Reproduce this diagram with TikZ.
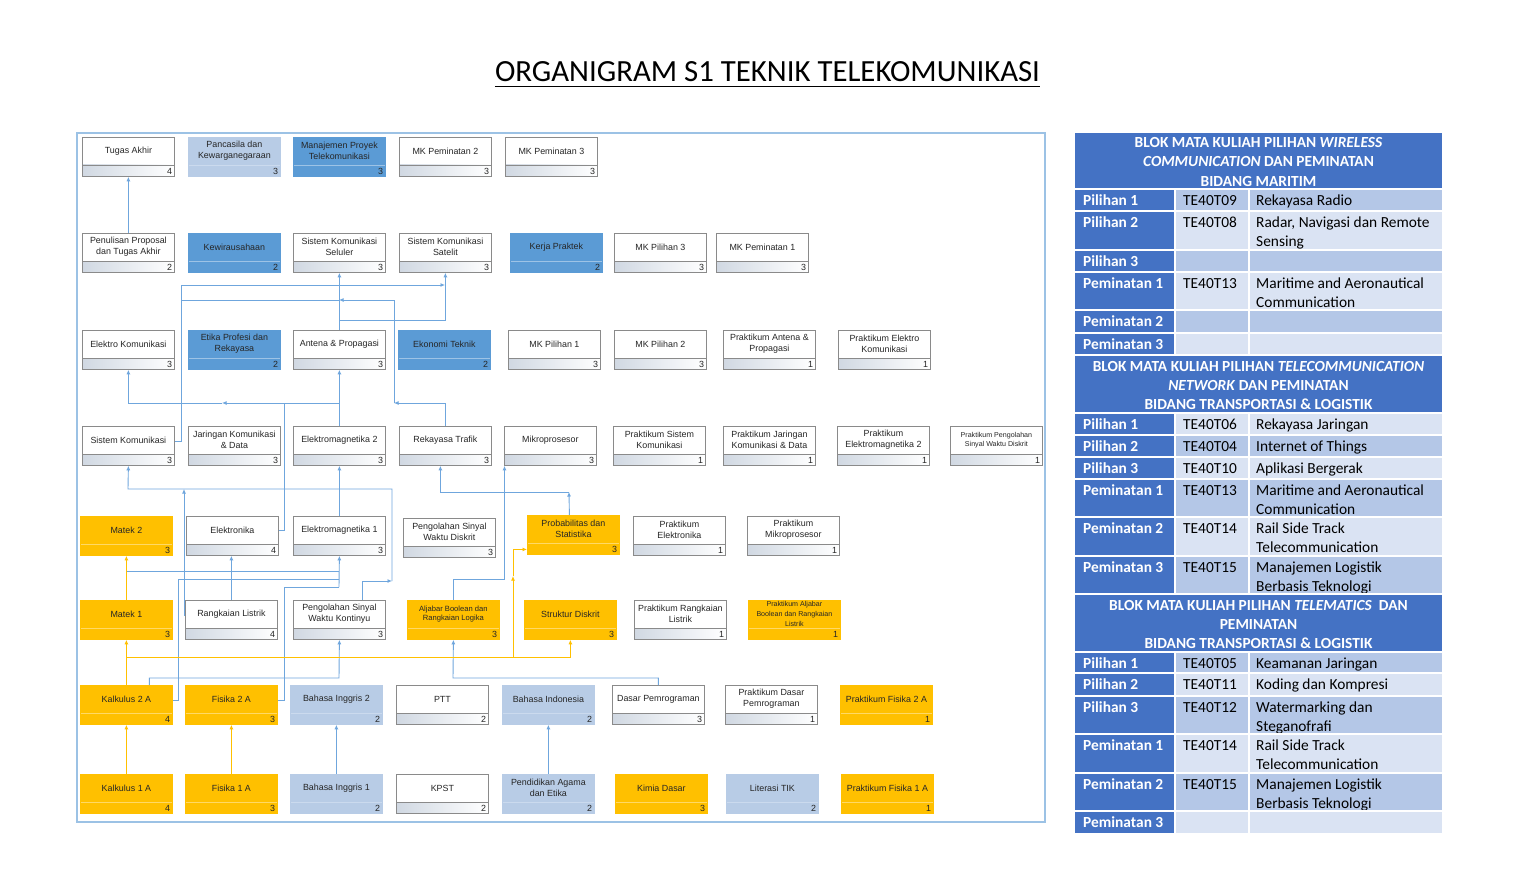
\documentclass[tikz,border=0pt]{standalone}
\usepackage{fontspec}
\setmainfont{Liberation Sans}
\newfontfamily\calibri{Carlito}
\usetikzlibrary{arrows.meta,calc}

% palette
\definecolor{tdark}{HTML}{4472C4}
\definecolor{tmed}{HTML}{B4C7E7}
\definecolor{tlight}{HTML}{DAE3F3}
\definecolor{toporange}{HTML}{FFC000}
\definecolor{topmid}{HTML}{5B9BD5}
\definecolor{toplight}{HTML}{B8CCE6}
\colorlet{topwhite}{white}
\definecolor{edgegray}{HTML}{8A8A8A}
\definecolor{stripgray}{HTML}{D0D8E2}
\definecolor{seporange}{HTML}{FFD966}
\definecolor{sepmid}{HTML}{9DC3E6}
\definecolor{seplight}{HTML}{CBDAEE}
\definecolor{lineblue}{HTML}{6FA6DD}
\definecolor{lineorange}{HTML}{FFC000}
\definecolor{framec}{HTML}{9CC2E5}
\definecolor{textdark}{HTML}{262626}

\newcommand\boxfont{\fontsize{8.9}{10.8}\selectfont}
\newcommand\smallboxfont{\fontsize{7.6}{9.9}\selectfont}
\newcommand\tinyboxfont{\fontsize{7.1}{9.6}\selectfont}
\newcommand\tabfont{\fontsize{15.4}{19}\selectfont}

\tikzset{
  x=1pt, y=-1pt,
  cbox/.style={minimum width=92pt, minimum height=39pt, inner sep=0pt,
    anchor=north west, line width=0.8pt},
  edgewhite/.style={draw=edgegray},
  edgeorange/.style={draw=toporange},
  edgemid/.style={draw=topmid},
  edgelight/.style={draw=toplight},
  stripwhite/.style={left color=stripgray, right color=white},
  striporange/.style={fill=toporange},
  stripmid/.style={fill=topmid},
  striplight/.style={fill=toplight},
  sepwhite/.style={draw=edgegray, line width=0.6pt},
  seporange/.style={draw=seporange, line width=0.6pt},
  sepmid/.style={draw=sepmid, line width=0.6pt},
  seplight/.style={draw=seplight, line width=0.6pt},
  ctext/.style={align=center, inner sep=0pt, text=textdark},
  cnum/.style={anchor=east, inner sep=0pt, text=textdark, font=\boxfont},
  conn/.style={draw=lineblue, line width=0.9pt},
  oconn/.style={draw=lineorange, line width=0.9pt},
  tip/.style={-{Latex[length=4.5pt,width=4pt]}},
  thead/.style={anchor=base, inner sep=0pt, text=white, font=\calibri\bfseries\tabfont},
  tlab/.style={anchor=base west, inner sep=0pt, text=white, font=\calibri\bfseries\tabfont},
  tcell/.style={anchor=base west, inner sep=0pt, text=black, font=\calibri\tabfont},
  tgrid/.style={draw=white, line width=1.4pt},
}

% course box: [font]{name}{x}{y}{kind}{title}{credits}
\newcommand\course[7][\boxfont]{%
  \path[fill=top#5] (#3,#4) rectangle ++(92,39);
  \path[strip#5] (#3,#4) ++(0,28) rectangle ++(92,11);
  \draw[sep#5] (#3,#4) ++(0,28) -- ++(92,0);
  \node[cbox, edge#5] (#2) at (#3,#4) {};
  \node[ctext, font=#1] (#2-t) at ([yshift=-14pt]#2.north) {#6};
  \node[cnum] (#2-n) at ([xshift=-2.5pt,yshift=5.5pt]#2.south east) {#7};
}

% table row: {id}{top}{bottom}{fill}{label}{code}{text 1}{text 2}
\newcommand\tabrow[8]{%
  \fill[#4] (1175,#2) rectangle (1442,#3);
  \fill[tdark] (1075,#2) rectangle (1175,#3);
  \node[tlab] (#1-a) at (1083,#2+16) {#5};
  \if\relax\detokenize{#6}\relax\else\node[tcell] (#1-b) at (1183,#2+16) {#6};\fi
  \if\relax\detokenize{#7}\relax\else\node[tcell] (#1-c) at (1256,#2+16) {#7};\fi
  \if\relax\detokenize{#8}\relax\else\node[tcell] (#1-d) at (1256,#2+35) {#8};\fi
}

\begin{document}
\begin{tikzpicture}
\useasboundingbox (0,0) rectangle (1536,896);
\fill[white] (0,0) rectangle (1536,896);

% title
\node[inner sep=0pt, anchor=base, font=\calibri\fontsize{30.8}{36}\selectfont] (title) at (767.5,82)
  {ORGANIGRAM S1 TEKNIK TELEKOMUNIKASI};
\draw[line width=1.6pt] ([yshift=-4.5pt]title.base west) -- ([yshift=-4.5pt]title.base east);

% chart frame
\draw[framec, line width=1.3pt] (77,133) rectangle (1045,822);

% semester rows, top to bottom
\course{tugas}{82}{137}{white}{Tugas Akhir}{4}
\course{pancasila}{188}{137}{light}{Pancasila dan\\Kewarganegaraan}{3}
\course{manproyek}{293}{137}{mid}{Manajemen Proyek\\Telekomunikasi}{3}
\course{mkpemb}{399}{137}{white}{MK Peminatan 2}{3}
\course{mkpemc}{505}{137}{white}{MK Peminatan 3}{3}

\course{proposal}{82}{233}{white}{Penulisan Proposal\\dan Tugas Akhir}{2}
\course{kewira}{188}{233}{mid}{Kewirausahaan}{2}
\course{seluler}{293}{233}{white}{Sistem Komunikasi\\Seluler}{3}
\course{satelit}{399}{233}{white}{Sistem Komunikasi\\Satelit}{3}
\course{kp}{510}{233}{mid}{Kerja Praktek}{2}
\course{mkpilc}{614}{233}{white}{MK Pilihan 3}{3}
\course{mkpema}{716}{233}{white}{MK Peminatan 1}{3}

\course{elkom}{82}{330}{white}{Elektro Komunikasi}{3}
\course{etika}{188}{330}{mid}{Etika Profesi dan\\Rekayasa}{2}
\course{antena}{293}{330}{white}{Antena \& Propagasi}{3}
\course{ekotek}{398}{330}{mid}{Ekonomi Teknik}{2}
\course{mkpila}{508}{330}{white}{MK Pilihan 1}{3}
\course{mkpilb}{614}{330}{white}{MK Pilihan 2}{3}
\course{prantena}{723}{330}{white}{Praktikum Antena \&\\Propagasi}{1}
\course{prelkom}{838}{330}{white}{Praktikum Elektro\\Komunikasi}{1}

\course{siskom}{82}{426}{white}{Sistem Komunikasi}{3}
\course{jarkom}{188}{426}{white}{Jaringan Komunikasi\\\& Data}{3}
\course{emb}{293}{426}{white}{Elektromagnetika 2}{3}
\course{trafik}{399}{426}{white}{Rekayasa Trafik}{3}
\course{mikro}{504}{426}{white}{Mikroprosesor}{3}
\course{prsiskom}{613}{426}{white}{Praktikum Sistem\\Komunikasi}{1}
\course{prjarkom}{723}{426}{white}{Praktikum Jaringan\\Komunikasi \& Data}{1}
\course{premb}{837}{426}{white}{Praktikum\\Elektromagnetika 2}{1}
\course[\tinyboxfont]{prpswd}{950}{426}{white}{Praktikum Pengolahan\\Sinyal Waktu Diskrit}{1}

\course{matekb}{80}{516}{orange}{Matek 2}{3}
\course{elektronika}{186}{516}{white}{Elektronika}{4}
\course{ema}{293}{516}{white}{Elektromagnetika 1}{3}
\course{pswd}{403}{518}{white}{Pengolahan Sinyal\\Waktu Diskrit}{3}
\course{probstat}{527}{515}{orange}{Probabilitas dan\\Statistika}{3}
\course{prelektronika}{633}{516}{white}{Praktikum\\Elektronika}{1}
\course{prmikro}{747}{516}{white}{Praktikum\\Mikroprosesor}{1}

\course{mateka}{80}{600}{orange}{Matek 1}{3}
\course{rangkaian}{185}{600}{white}{Rangkaian Listrik}{4}
\course{pswk}{293}{600}{white}{Pengolahan Sinyal\\Waktu Kontinyu}{3}
\course[\smallboxfont]{aljabar}{407}{600}{orange}{Aljabar Boolean dan\\Rangkaian Logika}{3}
\course{strukdis}{524}{600}{orange}{Struktur Diskrit}{3}
\course{prrangkaian}{634}{600}{white}{Praktikum Rangkaian\\Listrik}{1}
\course[\tinyboxfont]{praljabar}{748}{600}{orange}{Praktikum Aljabar\\Boolean dan Rangkaian\\Listrik}{1}

\course{kalkb}{80}{685}{orange}{Kalkulus 2 A}{4}
\course{fisb}{185}{685}{orange}{Fisika 2 A}{3}
\course{bingb}{290}{685}{light}{Bahasa Inggris 2}{2}
\course{ptt}{396}{685}{white}{PTT}{2}
\course{bindo}{502}{685}{light}{Bahasa Indonesia}{2}
\course{daspro}{612}{685}{white}{Dasar Pemrograman}{3}
\course{prdaspro}{725}{685}{white}{Praktikum Dasar\\Pemrograman}{1}
\course{prfisb}{840}{685}{orange}{Praktikum Fisika 2 A}{1}

\course{kalka}{80}{774}{orange}{Kalkulus 1 A}{4}
\course{fisa}{185}{774}{orange}{Fisika 1 A}{3}
\course{binga}{290}{774}{light}{Bahasa Inggris 1}{2}
\course{kpst}{396}{774}{white}{KPST}{2}
\course{agama}{502}{774}{light}{Pendidikan Agama\\dan Etika}{2}
\course{kimia}{615}{774}{orange}{Kimia Dasar}{3}
\course{literasi}{726}{774}{light}{Literasi TIK}{2}
\course{prfisa}{841}{774}{orange}{Praktikum Fisika 1 A}{1}

% junction points of the prerequisite lines
\coordinate (jAnt) at (339,320);
\coordinate (jSat) at (445,285);
\coordinate (jSkA) at (181,300);
\coordinate (jSel) at (339,300);
\coordinate (jTr)  at (394,403);
\coordinate (jEm)  at (339,403);
\coordinate (jEmL) at (222,403);
\coordinate (jEl)  at (284,403);
\coordinate (jPs)  at (392,581);
\coordinate (jSk)  at (128,489);
\coordinate (jRl)  at (184,489);
\coordinate (jMt)  at (126,571);
\coordinate (jEa)  at (339,571);
\coordinate (jEb)  at (339,579);
\coordinate (jE)   at (339,587);
\coordinate (jPk)  at (339,678);
\coordinate (jPr)  at (569,492);
\coordinate (jMk)  at (504.5,579);
\coordinate (jAl)  at (453,678);
\coordinate (jK)   at (126,657);
\coordinate (jSd)  at (513,657);
\coordinate (jSdb) at (513,576);

% blue prerequisite lines
\draw[conn,tip] (proposal.north) -- (tugas.south);
\draw[conn,tip] (antena.north) -- (seluler.south);
\draw[conn,tip] (jAnt) -| (satelit.south);
\draw[conn,tip] ([yshift=4pt]siskom.east) -| (181,285) -- (jSat);
\draw[conn] (jSkA) -- (jSel);
\draw[conn,tip] (trafik.north) |- (jTr);
\draw[conn,tip] (jTr) |- (jSel);
\draw[conn,tip] (emb.north) -- (antena.south);
\draw[conn,tip] (jEm) -- (jEmL);
\draw[conn,tip] (jEmL) -| (elkom.south);
\draw[conn] ([yshift=5pt]elektronika.east) -| (jEl);
\draw[conn,tip] ([xshift=23pt]pswk.north) |- (jPs);
\draw[conn,tip] (jPs) |- (jSk) -- (siskom.south);
\draw[conn,tip] (ema.north) -- (emb.south);
\draw[conn,tip] ([yshift=4.5pt]rangkaian.west) -| (jRl);
\draw[conn,tip] (rangkaian.north) -- (rangkaian.north |- elektronika.south);
\draw[conn] (jMt) -- (jEa);
\draw[conn] ([yshift=4.5pt]kalkb.east) -| (178,579) -- (jEb);
\draw[conn] ([yshift=4.5pt]fisb.east) -| (284,587) -- (jE);
\draw[conn,tip] (jE) -- (ema.south);
\draw[conn,tip] ([xshift=23pt]kalkb.north) |- (jPk) -- (pswk.south);
\draw[conn,tip] ([xshift=-4pt]probstat.north) -- (jPr);
\draw[conn,tip] (jPr) -| ([xshift=-5pt]trafik.south);
\draw[conn,tip] (aljabar.north) |- (jMk) -- ([xshift=0.5pt]mikro.south west);
\draw[conn,tip] (daspro.north) |- (jAl) -- (aljabar.south);
\draw[conn,tip] (binga.north) -- (bingb.south);
\draw[conn,tip] (agama.north) -- (bindo.south);

% orange prerequisite lines
\draw[oconn,tip] (kalka.north) -- (kalkb.south);
\draw[oconn,tip] (fisa.north) -- (fisb.south);
\draw[oconn,tip] (mateka.north) -- (matekb.south);
\draw[oconn,tip] (kalkb.north) -- (mateka.south);
\draw[oconn,tip] (jK) -| (strukdis.south);
\draw[oconn,tip] (jSd) -- (jSdb);
\draw[oconn,tip] (jSdb) |- ([yshift=-14.5pt]probstat.west);

% elective blocks table
\fill[tdark] (1075,133) rectangle (1442,189);
\node[thead] (h1a) at (1258.5,148) {BLOK MATA KULIAH PILIHAN \textit{WIRELESS}};
\node[thead] (h1b) at (1258.5,167) {\textit{COMMUNICATION} DAN PEMINATAN};
\node[thead] (h1c) at (1258.5,186) {BIDANG MARITIM};
\tabrow{wa}{189}{211}{tmed}{Pilihan 1}{TE40T09}{Rekayasa Radio}{}
\tabrow{wb}{211}{250}{tlight}{Pilihan 2}{TE40T08}{Radar, Navigasi dan Remote}{Sensing}
\tabrow{wc}{250}{272}{tmed}{Pilihan 3}{}{}{}
\tabrow{wd}{272}{310}{tlight}{Peminatan 1}{TE40T13}{Maritime and Aeronautical}{Communication}
\tabrow{we}{310}{333}{tmed}{Peminatan 2}{}{}{}
\tabrow{wf}{333}{355}{tlight}{Peminatan 3}{}{}{}

\fill[tdark] (1075,355) rectangle (1442,413);
\node[thead] (h2a) at (1258.5,371) {BLOK MATA KULIAH PILIHAN \textit{TELECOMMUNICATION}};
\node[thead] (h2b) at (1258.5,390) {\textit{NETWORK} DAN PEMINATAN};
\node[thead] (h2c) at (1258.5,409) {BIDANG TRANSPORTASI \& LOGISTIK};
\tabrow{na}{413}{435}{tlight}{Pilihan 1}{TE40T06}{Rekayasa Jaringan}{}
\tabrow{nb}{435}{457}{tmed}{Pilihan 2}{TE40T04}{Internet of Things}{}
\tabrow{nc}{457}{479}{tlight}{Pilihan 3}{TE40T10}{Aplikasi Bergerak}{}
\tabrow{nd}{479}{517}{tmed}{Peminatan 1}{TE40T13}{Maritime and Aeronautical}{Communication}
\tabrow{ne}{517}{556}{tlight}{Peminatan 2}{TE40T14}{Rail Side Track}{Telecommunication}
\tabrow{nf}{556}{594}{tmed}{Peminatan 3}{TE40T15}{Manajemen Logistik}{Berbasis Teknologi}

\fill[tdark] (1075,594) rectangle (1442,652);
\node[thead] (h3a) at (1258.5,610) {BLOK MATA KULIAH PILIHAN \textit{TELEMATICS}\ \ DAN};
\node[thead] (h3b) at (1258.5,629) {PEMINATAN};
\node[thead] (h3c) at (1258.5,648) {BIDANG TRANSPORTASI \& LOGISTIK};
\tabrow{ta}{652}{673}{tmed}{Pilihan 1}{TE40T05}{Keamanan Jaringan}{}
\tabrow{tb}{673}{696}{tlight}{Pilihan 2}{TE40T11}{Koding dan Kompresi}{}
\tabrow{tc}{696}{734}{tmed}{Pilihan 3}{TE40T12}{Watermarking dan}{Steganofrafi}
\tabrow{td}{734}{773}{tlight}{Peminatan 1}{TE40T14}{Rail Side Track}{Telecommunication}
\tabrow{te}{773}{811}{tmed}{Peminatan 2}{TE40T15}{Manajemen Logistik}{Berbasis Teknologi}
\tabrow{tf}{811}{833}{tlight}{Peminatan 3}{}{}{}

% white cell rules
\foreach \yy in {189,211,250,272,310,333,355,413,435,457,479,517,556,594,652,673,696,734,773,811}
  \draw[tgrid] (1075,\yy) -- (1442,\yy);
\foreach \xx in {1175,1249} {
  \draw[tgrid] (\xx,189) -- (\xx,355);
  \draw[tgrid] (\xx,413) -- (\xx,594);
  \draw[tgrid] (\xx,652) -- (\xx,833);
}
\end{tikzpicture}
\end{document}
